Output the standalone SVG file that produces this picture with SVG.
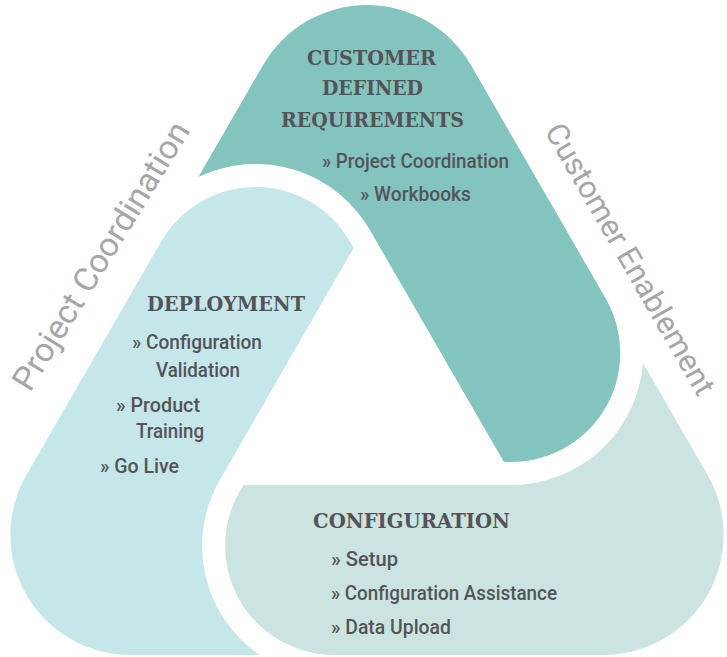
<svg xmlns="http://www.w3.org/2000/svg" width="727" height="657" viewBox="0 0 727 657">
  <defs>
    <path id="lobe" d="M198.4,177 L263.1,65 A120,120 0 0 1 470.9,65 L605.7,298.5 A109,109 0 0 1 503.8,461.7 L369.9,230 A132,132 0 0 0 198.4,177 Z"/>
  </defs>
  <style>
    .title { font-family: "DejaVu Serif", "Liberation Serif", serif; font-weight: bold; font-size: 21px; fill: #545458; }
    .item { font-family: Roboto, "Liberation Sans", sans-serif; font-weight: 500; font-size: 20px; fill: #545458; }
    .side { font-family: Roboto, "Liberation Sans", sans-serif; font-weight: 400; font-size: 33px; fill: #a6a6a6; }
  </style>
  <rect width="727" height="657" fill="#ffffff"/>

  <g id="node-requirements">
    <use href="#lobe" fill="#84c4be"/>
    <text class="title" x="307" y="65" textLength="129" lengthAdjust="spacingAndGlyphs">CUSTOMER</text>
    <text class="title" x="322" y="95" textLength="101" lengthAdjust="spacingAndGlyphs">DEFINED</text>
    <text class="title" x="281" y="127" textLength="183" lengthAdjust="spacingAndGlyphs">REQUIREMENTS</text>
    <text class="item" x="322" y="168" textLength="187" lengthAdjust="spacingAndGlyphs">» Project Coordination</text>
    <text class="item" x="360" y="201" textLength="111" lengthAdjust="spacingAndGlyphs">» Workbooks</text>
  </g>

  <g id="node-deployment">
    <use href="#lobe" fill="#c6e7ea" transform="rotate(240 367 398.3)"/>
    <text class="title" x="147" y="311" textLength="158" lengthAdjust="spacingAndGlyphs">DEPLOYMENT</text>
    <text class="item" x="132" y="349" textLength="130" lengthAdjust="spacingAndGlyphs">» Configuration</text>
    <text class="item" x="156" y="377" textLength="84" lengthAdjust="spacingAndGlyphs">Validation</text>
    <text class="item" x="116" y="412" textLength="84" lengthAdjust="spacingAndGlyphs">» Product</text>
    <text class="item" x="136" y="438" textLength="68" lengthAdjust="spacingAndGlyphs">Training</text>
    <text class="item" x="100" y="473" textLength="79" lengthAdjust="spacingAndGlyphs">» Go Live</text>
  </g>

  <g id="node-configuration">
    <use href="#lobe" fill="#cbe4e1" transform="rotate(120 367 398.3)"/>
    <text class="title" x="313" y="528" textLength="197" lengthAdjust="spacingAndGlyphs">CONFIGURATION</text>
    <text class="item" x="331" y="566" textLength="67" lengthAdjust="spacingAndGlyphs">» Setup</text>
    <text class="item" x="331" y="600" textLength="226" lengthAdjust="spacingAndGlyphs">» Configuration Assistance</text>
    <text class="item" x="331" y="634" textLength="120" lengthAdjust="spacingAndGlyphs">» Data Upload</text>
  </g>

  <g id="side-labels">
    <text class="side" transform="translate(30 393) rotate(-58.5)" textLength="308" lengthAdjust="spacingAndGlyphs">Project Coordination</text>
    <text class="side" style="font-size:31px" transform="translate(544 131) rotate(60)" textLength="308" lengthAdjust="spacingAndGlyphs">Customer Enablement</text>
  </g>
</svg>
